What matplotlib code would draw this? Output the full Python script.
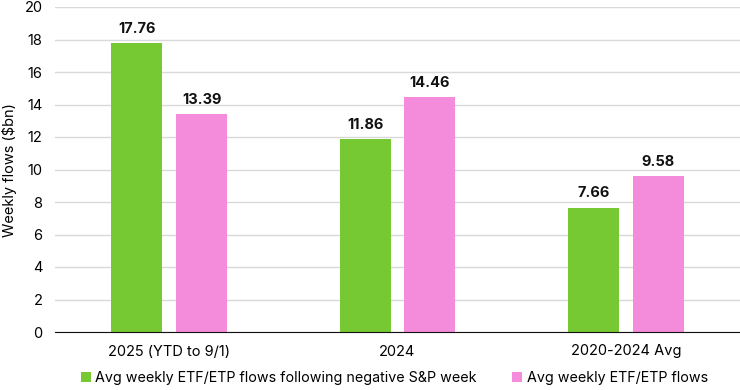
import matplotlib
matplotlib.use("Agg")
import matplotlib.pyplot as plt
import numpy as np

categories = ["2025 (YTD to 9/1)", "2024", "2020-2024 Avg"]
neg_week_flows = [17.76, 11.86, 7.66]
avg_flows = [13.39, 14.46, 9.58]
series_names = ["Avg weekly ETF/ETP flows following negative S&P week",
                "Avg weekly ETF/ETP flows"]

green = "#76C933"
pink = "#F58BDB"

plt.rcParams['font.family'] = ['Inter', 'DejaVu Sans']

fig = plt.figure(figsize=(7.4, 3.9), dpi=100)
ax = fig.add_axes([55 / 740, 58 / 390, 685 / 740, 325 / 390])

x = np.arange(len(categories))
w = 0.224
off = 0.142
b1 = ax.bar(x - off, neg_week_flows, w, color=green, label=series_names[0], zorder=3)
b2 = ax.bar(x + off, avg_flows, w, color=pink, label=series_names[1], zorder=3)

for bars, vals in [(b1, neg_week_flows), (b2, avg_flows)]:
    for rect, v in zip(bars, vals):
        ax.text(rect.get_x() + rect.get_width() / 2, v + 0.45, f"{v:.2f}",
                ha="center", va="bottom", fontsize=10.5, fontweight="bold", color="#111111")

ax.set_xlim(-0.5, 2.5)
ax.set_ylim(0, 20)
ax.set_yticks(range(0, 21, 2))
ax.set_xticks(x)
ax.set_xticklabels(categories, fontsize=10.5)
ax.tick_params(axis="y", labelsize=10.5, length=0, pad=9)
ax.tick_params(axis="x", length=0, pad=9)
ax.grid(axis="y", color="#d9d9d9", linewidth=1, zorder=0)
for s in ["top", "right", "left"]:
    ax.spines[s].set_visible(False)
ax.spines["bottom"].set_color("#111111")
ax.spines["bottom"].set_zorder(4)

# y label placed by hand so it sits inside the figure edge
fig.text(2 / 740, 1 - 170 / 390, "Weekly flows ($bn)", rotation=90,
         ha="left", va="center", fontsize=10.5)

fig.legend(loc="lower center", bbox_to_anchor=(0.533, -0.02), ncol=2, frameon=False,
           fontsize=10.3, handlelength=0.7, handleheight=0.7, handletextpad=0.3,
           columnspacing=2.5)

fig.savefig("out.png", dpi=100)
